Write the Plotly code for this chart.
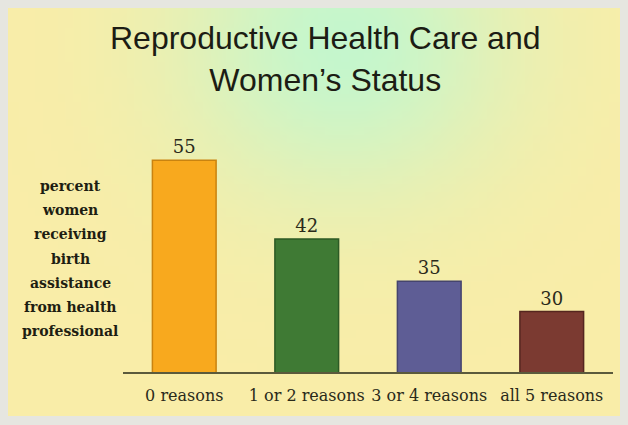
import base64, struct, zlib, math
import plotly.graph_objects as go

# ---- data ----
categories = ["0 reasons", "1 or 2 reasons", "3 or 4 reasons", "all 5 reasons"]
values = [55, 42, 35, 30]
bar_colors = ["#F8A91E", "#3F7A34", "#5E5D95", "#7B3A31"]
edge_colors = ["#C98310", "#2C5A25", "#45446E", "#55261F"]
title_text = "Reproductive Health Care and<br>Women\u2019s Status"
ytitle_lines = ["percent", "women", "receiving", "birth", "assistance",
                "from health", "professional"]

W_PX, H_PX = 628, 425

# ---- background gradient image (generated PNG) ----
def make_png(w, h):
    yellow = (249, 237, 168)
    green = (194, 247, 207)
    rows = []
    for j in range(h):
        yy = j / (h - 1)
        row = []
        for i in range(w):
            xx = i / (w - 1)
            wgt = 0.95 * math.exp(-((xx - 0.55) / 0.27) ** 2 - ((yy - 0.08) / 0.38) ** 2)
            c = [round(yellow[k] * (1 - wgt) + green[k] * wgt) for k in range(3)]
            row.extend(c)
        rows.append(b"\x00" + bytes(row))
    raw = b"".join(rows)
    def chunk(t, d):
        c = struct.pack(">I", len(d)) + t + d
        return c + struct.pack(">I", zlib.crc32(t + d) & 0xffffffff)
    png = b"\x89PNG\r\n\x1a\n" + chunk(b"IHDR", struct.pack(">IIBBBBB", w, h, 8, 2, 0, 0, 0)) \
        + chunk(b"IDAT", zlib.compress(raw, 9)) + chunk(b"IEND", b"")
    return "data:image/png;base64," + base64.b64encode(png).decode()

bg_src = make_png(80, 50)

fig = go.Figure()
fig.add_trace(go.Bar(
    x=categories, y=values,
    marker=dict(color=bar_colors, line=dict(color=edge_colors, width=1.5)),
    width=0.52,
    text=[str(v) for v in values], textposition="outside",
    textfont=dict(family="DejaVu Serif", size=18, color="#2a2a1a"),
    cliponaxis=False,
))

L, R, T, B = 123, 15, 130, 53
PW, PH = W_PX - L - R, H_PX - T - B

def px_x(px):
    return (px - L) / PW

def px_y(py):
    return 1 - (py - T) / PH

fig.update_layout(
    width=W_PX, height=H_PX,
    margin=dict(l=L, r=R, t=T, b=B),
    paper_bgcolor="#E6E6E0",
    plot_bgcolor="rgba(0,0,0,0)",
    showlegend=False,
    xaxis=dict(showline=True, linecolor="#5B5A3C", linewidth=2,
               ticks="outside", ticklen=8, tickcolor="rgba(0,0,0,0)",
               tickfont=dict(family="DejaVu Serif", size=16, color="#2a2a1a"),
               range=[-0.5, 3.5], showgrid=False, zeroline=False),
    yaxis=dict(range=[20, 60], visible=False, showgrid=False, zeroline=False),
    images=[dict(source=bg_src, xref="paper", yref="paper",
                 x=px_x(8), y=px_y(8),
                 sizex=(620 - 8) / PW, sizey=(416 - 8) / PH,
                 xanchor="left", yanchor="top", sizing="stretch", layer="below")],
)

# title
fig.add_annotation(text=title_text, xref="paper", yref="paper",
                   x=px_x(325), y=px_y(18), xanchor="center", yanchor="top",
                   showarrow=False,
                   font=dict(family="Liberation Sans", size=32, color="#1c1c14"))

# y-axis title lines
for k, line in enumerate(ytitle_lines):
    py = 186 + k * 24.2
    fig.add_annotation(text=line, xref="paper", yref="paper",
                       x=px_x(70), y=px_y(py),
                       xanchor="center", yanchor="middle", showarrow=False,
                       font=dict(family="DejaVu Serif", size=14, color="#1e1e12",
                                 weight="bold"))

fig.write_html("out.html")
